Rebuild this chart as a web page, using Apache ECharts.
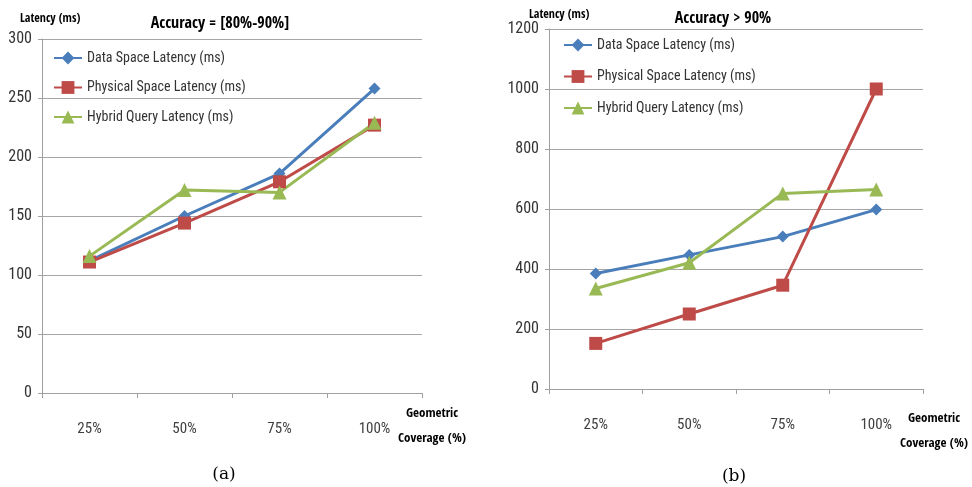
<!DOCTYPE html>
<html>
<head>
<meta charset="utf-8">
<script src="https://cdn.jsdelivr.net/npm/echarts@6/dist/echarts.min.js"></script>
<style>
  html, body { margin: 0; padding: 0; background: #fff; }
  #chart { width: 972px; height: 487px; }
</style>
</head>
<body>
<div id="chart"></div>
<script>
// Geometric coverage categories shared by both panels
const coverage = ['25%', '50%', '75%', '100%'];
const seriesNames = ['Data Space Latency (ms)', 'Physical Space Latency (ms)', 'Hybrid Query Latency (ms)'];

// Panel (a): Accuracy = [80%-90%]
const dataSpaceA = [112, 150, 186, 258];
const physicalSpaceA = [111, 144, 179, 227];
const hybridA = [116, 172, 170, 229];

// Panel (b): Accuracy > 90%
const dataSpaceB = [385, 447, 508, 598];
const physicalSpaceB = [152, 250, 346, 1000];
const hybridB = [335, 421, 652, 665];

const FONT = '"Roboto Condensed", "DejaVu Sans Condensed", sans-serif';
const BOLD_FONT = '"Open Sans Condensed", "Roboto Condensed", sans-serif';
const SERIF = '"DejaVu Serif", "Liberation Serif", serif';
const colors = ['#4a7ebb', '#be4b48', '#98b954'];
const symbols = ['diamond', 'rect', 'triangle'];
const symbolSizes = [12, 13, 14];

function makeSeries(values, idx, gridIdx) {
  return {
    name: seriesNames[idx],
    type: 'line',
    xAxisIndex: gridIdx,
    yAxisIndex: gridIdx,
    data: values,
    symbol: symbols[idx],
    symbolSize: symbolSizes[idx],
    showAllSymbol: true,
    lineStyle: { color: colors[idx], width: 3 },
    itemStyle: { color: colors[idx] },
    animation: false
  };
}

function catAxis(gridIndex) {
  return {
    type: 'category',
    gridIndex,
    data: coverage,
    boundaryGap: true,
    axisLine: { show: true, lineStyle: { color: '#a0a0a0', width: 1 } },
    axisTick: { show: true, length: 5, lineStyle: { color: '#a0a0a0' } },
    axisLabel: { fontFamily: FONT, fontSize: 15, color: '#404040', margin: 29 }
  };
}

function valAxis(gridIndex, max, interval) {
  return {
    type: 'value',
    gridIndex,
    min: 0,
    max,
    interval,
    axisLine: { show: true, lineStyle: { color: '#a0a0a0', width: 1 } },
    axisTick: { show: true, length: 4, lineStyle: { color: '#a0a0a0' } },
    splitLine: { show: true, lineStyle: { color: '#a6a6a6', width: 1 } },
    axisLabel: { fontFamily: FONT, fontSize: 16, color: '#333', margin: 10, formatter: v => String(v) }
  };
}

function legendAt(left, top, gap) {
  return {
    left, top,
    padding: 0,
    orient: 'vertical',
    itemWidth: 28,
    itemHeight: 16,
    itemGap: gap,
    textStyle: { fontFamily: FONT, fontSize: 14, color: '#333' },
    data: seriesNames
  };
}

function label(text, left, top, font, size, align) {
  return {
    text, left, top, padding: 0,
    textAlign: align || 'left',
    textStyle: { fontFamily: font, fontSize: size, fontWeight: 'normal', color: '#000', lineHeight: 25, align: align || 'left' }
  };
}

const chart = echarts.init(document.getElementById('chart'), null, { renderer: 'canvas' });
chart.setOption({
  backgroundColor: '#fff',
  animation: false,
  title: [
    label('Accuracy = [80%-90%]', 220, 11, BOLD_FONT, 16, 'center'),
    label('Accuracy > 90%', 723, 6, BOLD_FONT, 16, 'center'),
    label('Latency (ms)', 20, 6, BOLD_FONT, 12),
    label('Latency (ms)', 529, 2, BOLD_FONT, 12),
    label('Geometric\nCoverage (%)', 432, 401, BOLD_FONT, 13, 'center'),
    label('Geometric\nCoverage (%)', 934, 406, BOLD_FONT, 13, 'center'),
    label('(a)', 224, 462, SERIF, 17, 'center'),
    label('(b)', 734, 464, SERIF, 17, 'center')
  ],
  legend: [legendAt(53, 51, 15.5), legendAt(563, 38, 17.5)],
  grid: [
    { left: 42, right: 550, top: 39, bottom: 94, containLabel: false },
    { left: 549, right: 49, top: 29, bottom: 98, containLabel: false }
  ],
  xAxis: [catAxis(0), catAxis(1)],
  yAxis: [valAxis(0, 300, 50), valAxis(1, 1200, 200)],
  series: [
    makeSeries(dataSpaceA, 0, 0),
    makeSeries(physicalSpaceA, 1, 0),
    makeSeries(hybridA, 2, 0),
    makeSeries(dataSpaceB, 0, 1),
    makeSeries(physicalSpaceB, 1, 1),
    makeSeries(hybridB, 2, 1)
  ]
});
</script>
</body>
</html>
